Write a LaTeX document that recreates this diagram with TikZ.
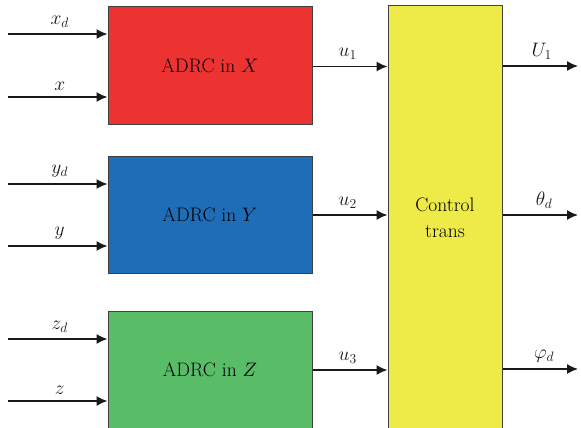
\RequirePackage{fix-cm}
\documentclass[tikz,border=0pt]{standalone}
\usepackage{amsmath}
\usetikzlibrary{arrows.meta,positioning}
\definecolor{adrcred}{RGB}{237,50,50}
\definecolor{adrcblue}{RGB}{31,108,183}
\definecolor{adrcgreen}{RGB}{89,189,104}
\definecolor{transyellow}{RGB}{238,234,72}
\tikzstyle{block}=[draw=black!75,line width=1pt,minimum width=204pt,
  minimum height=117pt,inner sep=0pt,font=\fontsize{19.5}{22}\selectfont]
\tikzstyle{sig}=[-{Latex[length=11pt,width=10pt]},line width=1.5pt,black!90]
\tikzstyle{lab}=[above,inner sep=6pt,font=\fontsize{19.5}{22}\selectfont]

\begin{document}
\begin{tikzpicture}[x=1pt,y=-1pt, node distance=150pt, on grid]
  \useasboundingbox (0,0) rectangle (581,428);
  \clip (0,0) rectangle (581,427);

  \node[block, fill=adrcred] (adrcx) at (210,65.5) {ADRC in $X$};
  \node[block, fill=adrcblue, below=149.5pt of adrcx] (adrcy) {ADRC in $Y$};
  \node[block, fill=adrcgreen, below=155pt of adrcy] (adrcz) {ADRC in $Z$};
  \node[block, fill=transyellow, minimum width=114pt, minimum height=424pt,
    align=center, font=\fontsize{19.5}{26}\selectfont] (ctrl) at (445,218) {Control\\trans};

  % inputs
  \coordinate (xdin) at (8,34);
  \coordinate (xin) at (8,97);
  \coordinate (ydin) at (8,184);
  \coordinate (yin) at (8,246);
  \coordinate (zdin) at (8,339);
  \coordinate (zin) at (8,401);

  \draw[sig] (xdin) -- (xdin -| adrcx.west) node[lab,pos=.52] {$x_d$};
  \draw[sig] (xin) -- (xin -| adrcx.west) node[lab,pos=.52] {$x$};
  \draw[sig] (ydin) -- (ydin -| adrcy.west) node[lab,pos=.52] {$y_d$};
  \draw[sig] (yin) -- (yin -| adrcy.west) node[lab,pos=.52] {$y$};
  \draw[sig] (zdin) -- (zdin -| adrcz.west) node[lab,pos=.52] {$z_d$};
  \draw[sig] (zin) -- (zin -| adrcz.west) node[lab,pos=.52] {$z$};

  % to control transform
  \draw[sig] (adrcx.east) ++(0,1) coordinate (ux) -- (ux -| ctrl.west) node[lab,pos=.47] {$u_1$};
  \draw[sig] (adrcy.east) -- (adrcy.east -| ctrl.west) node[lab,pos=.47] {$u_2$};
  \draw[sig] (adrcz.east) -- (adrcz.east -| ctrl.west) node[lab,pos=.47] {$u_3$};

  % outputs
  \coordinate (uout) at (578,66);
  \coordinate (thout) at (578,215);
  \coordinate (phout) at (578,369);
  \draw[sig] (uout -| ctrl.east) -- (uout) node[lab,pos=.52] {$U_1$};
  \draw[sig] (thout -| ctrl.east) -- (thout) node[lab,pos=.55] {$\theta_d$};
  \draw[sig] (phout -| ctrl.east) -- (phout) node[lab,pos=.55] {$\varphi_d$};

\end{tikzpicture}
\end{document}
